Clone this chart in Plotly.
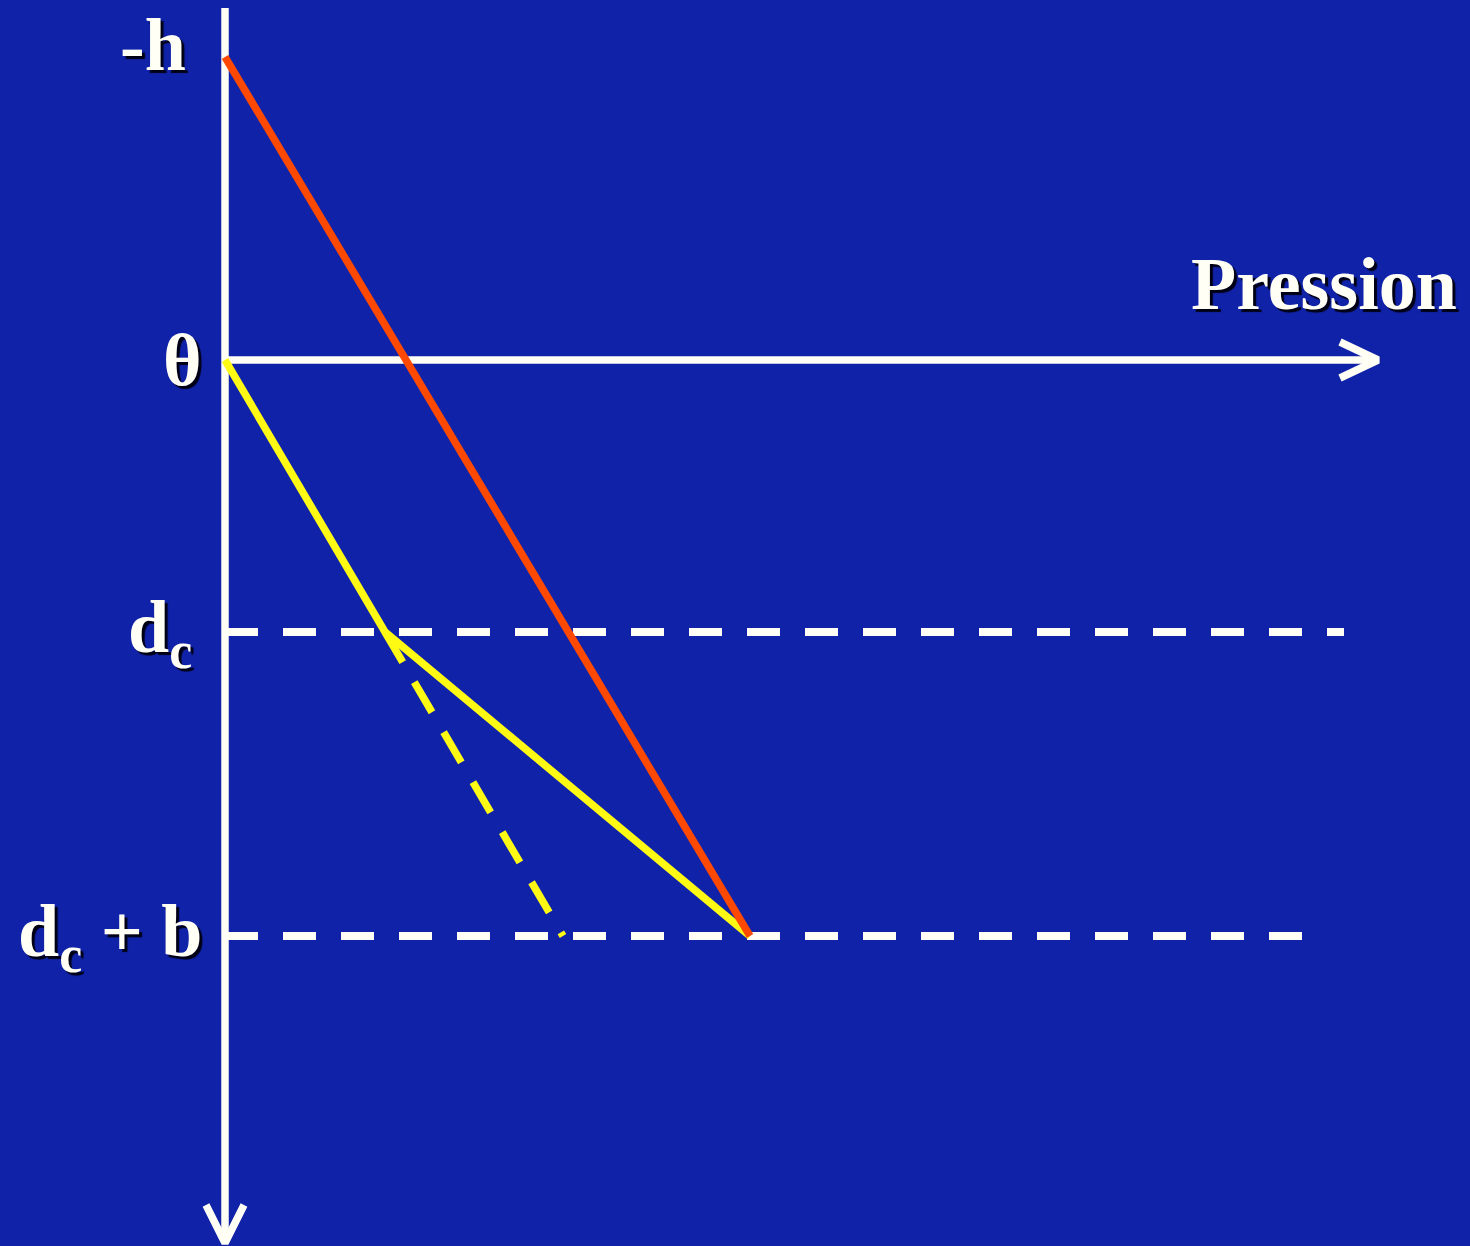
import plotly.graph_objects as go

# ---- data (arbitrary units: pressure along x, depth along y, 0 = surface) ----
depth_labels = ["-h", "θ", "d<sub>c</sub>", "d<sub>c</sub> + b"]
depth_values = [-3.03, 0.0, 2.72, 5.76]
label_right = [-0.37, -0.21, -0.31, -0.21]
label_shift = [12, 0, 0, 0]

red_depth = [-3.03, 5.76]
red_pressure = [0.0, 5.25]

yellow_depth = [0.0, 2.72, 5.76]
yellow_pressure = [0.0, 1.60, 5.25]

yellow_dash_depth = [2.72, 5.76]
yellow_dash_pressure = [1.60, 3.38]

level_depths = [2.72, 5.76]
level_ends = [11.19, 10.81]

axis_x_end = 11.53
axis_y_top = -3.52
axis_y_bottom = 8.83
axis_title = "Pression"

BG = "rgb(16,35,168)"
WHITE = "rgb(255,255,246)"
RED = "rgb(255,72,0)"
YELLOW = "rgb(255,250,20)"

fig = go.Figure()

# axes
fig.add_trace(go.Scatter(x=[0, 0], y=[axis_y_top, axis_y_bottom], mode="lines",
                         line=dict(color=WHITE, width=7.5)))
fig.add_trace(go.Scatter(x=[0, axis_x_end], y=[0, 0], mode="lines",
                         line=dict(color=WHITE, width=7.5)))
# arrow heads
fig.add_trace(go.Scatter(x=[axis_x_end - 0.38, axis_x_end, axis_x_end - 0.38],
                         y=[-0.18, 0, 0.18], mode="lines",
                         line=dict(color=WHITE, width=7.5)))
fig.add_trace(go.Scatter(x=[-0.19, 0, 0.19],
                         y=[axis_y_bottom - 0.38, axis_y_bottom, axis_y_bottom - 0.38], mode="lines",
                         line=dict(color=WHITE, width=7.5)))

# dashed levels
for d, e in zip(level_depths, level_ends):
    fig.add_trace(go.Scatter(x=[0, e], y=[d, d], mode="lines",
                             line=dict(color=WHITE, width=8, dash="33px,25px")))

# yellow profiles
fig.add_trace(go.Scatter(x=yellow_dash_pressure, y=yellow_dash_depth, mode="lines",
                         line=dict(color=YELLOW, width=7.5, dash="35px,23px")))
fig.add_trace(go.Scatter(x=yellow_pressure, y=yellow_depth, mode="lines",
                         line=dict(color=YELLOW, width=7.5)))
# red profile
fig.add_trace(go.Scatter(x=red_pressure, y=red_depth, mode="lines",
                         line=dict(color=RED, width=7.5)))

font = dict(family="Liberation Serif", size=74, color=WHITE, weight="bold",
            shadow="3px 3px 1px rgb(0,0,20)")
for lab, d, xr, ys in zip(depth_labels, depth_values, label_right, label_shift):
    fig.add_annotation(x=xr, y=d, xref="x", yref="y", text=lab, showarrow=False,
                       xanchor="right", yanchor="middle", yshift=ys, font=font)
fig.add_annotation(x=12.34, y=-0.76, xref="x", yref="y", text=axis_title, showarrow=False,
                   xanchor="right", yanchor="middle", font=font)

fig.update_layout(
    width=1470, height=1246, autosize=False,
    margin=dict(l=0, r=0, t=0, b=0, pad=0),
    paper_bgcolor=BG, plot_bgcolor=BG, showlegend=False,
    xaxis=dict(range=[-2.25, 12.45], visible=False, fixedrange=True),
    yaxis=dict(range=[8.86, -3.60], visible=False, fixedrange=True),
)

fig.write_html("out.html", config={"displayModeBar": False},
               post_script="document.body.style.margin='0';document.body.style.overflow='hidden';")
